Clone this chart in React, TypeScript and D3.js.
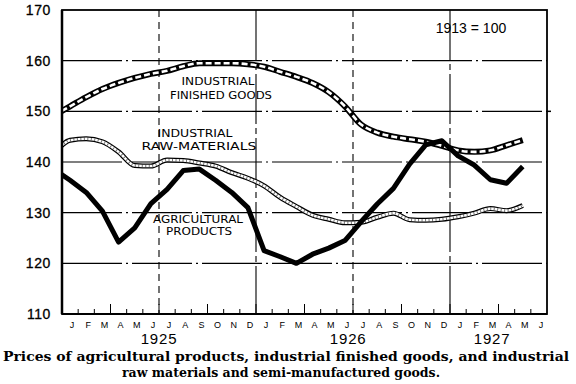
import React from "react";
import * as d3 from "d3";

// monthly index numbers, 1913 = 100, Dec 1924 .. May 1927
const finishedGoods = [
  149.2, 151, 152.8, 154.4, 155.6, 156.6, 157.4, 158, 158.9, 159.5, 159.5, 159.5, 159.3,
  158.8, 157.8, 156.8, 155.6, 153.8, 151, 147.4, 145.8, 145, 144.5, 144, 143.2,
  142.3, 142, 142.3, 143.3, 144.3,
];
const rawMaterials = [
  141.7, 144.3, 144.6, 144, 142, 139.3, 139.2, 140.4, 140.3, 139.8, 139.2, 137.9, 136.8,
  135.3, 133, 131.2, 129.5, 128.7, 128, 128.1, 129.1, 129.9, 128.6, 128.5, 128.7,
  129.2, 129.9, 130.8, 130.4, 131.4,
];
const agricultural = [
  138.6, 136.4, 134, 130.3, 124.2, 127, 131.8, 134.6, 138.3, 138.6, 136.4, 134, 131,
  122.5, 121.3, 120, 121.8, 123, 124.5, 128.2, 131.7, 134.8, 139.6, 143.4, 144.2,
  141.2, 139.4, 136.5, 135.8, 139.1,
];

const monthLetters = [
  "J", "F", "M", "A", "M", "J", "J", "A", "S", "O", "N", "D",
  "J", "F", "M", "A", "M", "J", "J", "A", "S", "O", "N", "D",
  "J", "F", "M", "A", "M", "J",
];
const years = ["1925", "1926", "1927"];
const yTicks = [110, 120, 130, 140, 150, 160, 170];
const gridValues = [120, 130, 140, 150, 160];
const halfYears = [6, 12, 18, 24];

const left = 62;
const right = 547;
const top = 10;
const bottom = 314;

export default function App() {
  const x = d3.scaleLinear().domain([0, 30]).range([left, right]);
  const y = d3.scaleLinear().domain([110, 170]).range([bottom, top]);

  // first value is Dec 1924, plotted half a month left of the axis (clipped)
  const smooth = d3
    .line<number>()
    .x((d, k) => x(k - 0.5))
    .y((d) => y(d))
    .curve(d3.curveMonotoneX);
  const straight = d3
    .line<number>()
    .x((d, k) => x(k - 0.5))
    .y((d) => y(d));

  const yearPos = [x(6), x(17.7), x(26.6)];
  const ink = "#000";

  return (
    <svg
      width={576}
      height={384}
      style={{ position: "absolute", left: 0, top: 0, background: "#fff" }}
      fontFamily="Liberation Sans, Arial, sans-serif"
    >
      <defs>
        <clipPath id="plot">
          <rect x={left} y={top} width={right - left} height={bottom - top} />
        </clipPath>
      </defs>

      {/* grid */}
      {gridValues.map((v) => (
        <line
          key={v}
          x1={left}
          x2={right}
          y1={y(v)}
          y2={y(v)}
          stroke={ink}
          strokeWidth={1.1}
          strokeDasharray="60 4 2 4"
        />
      ))}
      {halfYears.map((m) => (
        <line
          key={m}
          x1={x(m)}
          x2={x(m)}
          y1={top}
          y2={bottom}
          stroke={ink}
          strokeWidth={1.1}
          strokeDasharray={m % 12 === 0 ? "50 4 6 4" : "7 5"}
        />
      ))}

      {/* month ticks along the bottom */}
      {d3.range(1, 30).map((m) => (
        <line
          key={m}
          x1={x(m)}
          x2={x(m)}
          y1={bottom}
          y2={bottom - (m % 3 === 0 ? 10 : 5)}
          stroke={ink}
          strokeWidth={1}
        />
      ))}

      {/* series */}
      <g clipPath="url(#plot)" fill="none" strokeLinejoin="round" strokeLinecap="butt">
        <path d={smooth(rawMaterials) ?? ""} stroke={ink} strokeWidth={5} />
        <path d={smooth(rawMaterials) ?? ""} stroke="#fff" strokeWidth={2.6} />
        <path
          d={smooth(rawMaterials) ?? ""}
          stroke={ink}
          strokeWidth={2.6}
          strokeDasharray="1 2.5"
          strokeOpacity={0.55}
        />
        <path d={smooth(finishedGoods) ?? ""} stroke={ink} strokeWidth={6} />
        <path
          d={smooth(finishedGoods) ?? ""}
          stroke="#fff"
          strokeWidth={2.6}
          strokeDasharray="6 3"
        />
        <path d={straight(agricultural) ?? ""} stroke={ink} strokeWidth={5} />
      </g>

      {/* frame */}
      <rect
        x={left}
        y={top}
        width={right - left}
        height={bottom - top}
        fill="none"
        stroke={ink}
        strokeWidth={1.8}
      />
      <line x1={left} x2={left} y1={top} y2={bottom} stroke={ink} strokeWidth={2.5} />
      <line x1={left} x2={right} y1={bottom} y2={bottom} stroke={ink} strokeWidth={2} />
      <line x1={right} x2={right + 4} y1={y(150)} y2={y(150)} stroke={ink} strokeWidth={1.5} />

      {/* y labels */}
      {yTicks.map((v) => (
        <text
          key={v}
          x={51}
          y={y(v) + 5}
          textAnchor="end"
          fontSize={14}
          letterSpacing={0.6}
          fill={ink}
          stroke={ink}
          strokeWidth={0.3}
        >
          {v}
        </text>
      ))}

      {/* month letters */}
      {monthLetters.map((l, i) => (
        <text
          key={i}
          x={x(i + 0.5) + 2}
          y={328}
          textAnchor="middle"
          fontSize={9}
          fill={ink}
        >
          {l}
        </text>
      ))}
      {years.map((yr, i) => (
        <text
          key={yr}
          x={yearPos[i]}
          y={344}
          textAnchor="middle"
          fontSize={15}
          letterSpacing={0.8}
          fill={ink}
        >
          {yr}
        </text>
      ))}

      <text x={471} y={33} textAnchor="middle" fontSize={14} fill={ink}>
        1913 = 100
      </text>

      {/* series labels */}
      <g fontFamily="DejaVu Sans, sans-serif" fontSize={11} fill={ink}>
        <text x={218} y={85} textAnchor="middle" textLength={73} lengthAdjust="spacingAndGlyphs">
          INDUSTRIAL
        </text>
        <text x={221} y={99} textAnchor="middle" textLength={102} lengthAdjust="spacingAndGlyphs">
          FINISHED GOODS
        </text>
        <text x={195} y={137} textAnchor="middle" textLength={75} lengthAdjust="spacingAndGlyphs">
          INDUSTRIAL
        </text>
        <text x={199} y={150} textAnchor="middle" textLength={115} lengthAdjust="spacingAndGlyphs">
          RAW-MATERIALS
        </text>
        <text x={198} y={223} textAnchor="middle" textLength={90} lengthAdjust="spacingAndGlyphs">
          AGRICULTURAL
        </text>
        <text x={199} y={235} textAnchor="middle" textLength={66} lengthAdjust="spacingAndGlyphs">
          PRODUCTS
        </text>
      </g>

      {/* caption */}
      <g fontFamily="DejaVu Serif, serif" fontWeight="bold" fontSize={13.5} fill={ink}>
        <text x={3} y={361} textLength={566} lengthAdjust="spacingAndGlyphs">
          Prices of agricultural products, industrial finished goods, and industrial
        </text>
        <text x={122} y={377} textLength={318} lengthAdjust="spacingAndGlyphs">
          raw materials and semi-manufactured goods.
        </text>
      </g>
    </svg>
  );
}
